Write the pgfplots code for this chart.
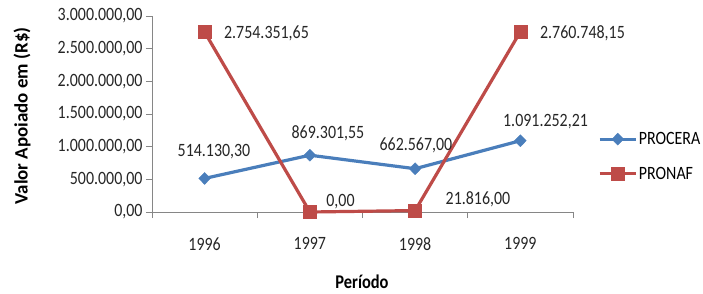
\documentclass[border=0pt]{standalone}
\usepackage{pgfplots}
\pgfplotsset{compat=1.18}
\usepackage{fontspec}
\setmainfont{Carlito}
\definecolor{procera}{RGB}{74,126,187}
\definecolor{pronaf}{RGB}{190,75,72}
\definecolor{axgray}{RGB}{134,134,134}
\newcommand{\st}[1]{\scalebox{1}[1.18]{#1}}
\begin{document}
\begin{tikzpicture}
\useasboundingbox (-152bp,-82bp) rectangle (551bp,212bp);
\begin{axis}[
  at={(0,0)}, anchor=south west,
  scale only axis, width=421bp, height=196bp,
  xmin=-0.5, xmax=3.5, ymin=0, ymax=3000000,
  axis x line*=bottom, axis y line*=left,
  axis line style={axgray, line width=0.8pt, -},
  xtick={0,1,2,3}, xticklabels={\st{1996},\st{1997},\st{1998},\st{1999}},
  major x tick style={draw=none},
  minor xtick={-0.5,0.5,1.5,2.5,3.5},
  minor tick length=6bp,
  minor x tick style={axgray, line width=0.8pt},
  ytick={0,500000,1000000,1500000,2000000,2500000,3000000},
  major tick length=6bp,
  y tick style={axgray, line width=0.8pt},
  tick align=outside,
  scaled y ticks=false,
  yticklabel={\st{\pgfmathprintnumber{\tick}}},
  yticklabel style={/pgf/number format/.cd, fixed, fixed zerofill, precision=2, use comma, 1000 sep={.}, assume math mode=true},
  ticklabel style={font=\fontsize{16}{18}\selectfont, text=black!85},
  xticklabel style={yshift=-16bp},
  ylabel={\bfseries Valor Apoiado em (R\$)},
  ylabel style={font=\fontsize{19}{21}\selectfont, at={(-130bp,96bp)}, anchor=center},
  xlabel={\st{\bfseries Período}},
  xlabel style={font=\fontsize{16.5}{19}\selectfont, at={(210bp,-70bp)}, anchor=center},
  clip=false,
  legend style={draw=none, fill=none, at={(446bp,55.5bp)}, anchor=west, font=\fontsize{16}{18}\selectfont, row sep=18bp, inner sep=0pt, nodes={inner sep=1.5bp}},
  legend cell align=left,
  legend image code/.code={\draw[#1, line width=3.2bp] (0bp,0bp) -- (36bp,0bp); \path[#1, mark repeat=2,mark phase=2] plot coordinates {(0bp,0bp) (18bp,0bp) (36bp,0bp)};},
]
\addplot[procera, line width=3.2bp, mark=diamond*, mark size=6bp, mark options={solid, fill=procera, draw=procera, line width=0.4pt, xscale=1.3}]
  coordinates {(0,514130.30) (1,869301.55) (2,662567.00) (3,1091252.21)};
\addlegendentry{\st{PROCERA}}
\addplot[pronaf, line width=3.2bp, mark=square*, mark size=6.5bp, mark options={solid, fill=pronaf, draw=pronaf, line width=0.4pt}]
  coordinates {(0,2754351.65) (1,0.00) (2,21816.00) (3,2760748.15)};
\addlegendentry{\st{PRONAF}}
\begin{scope}[every node/.style={font=\fontsize{16}{18}\selectfont, text=black!85}]
\node at (axis cs:0.089,918000) {\st{514.130,30}};
\node at (axis cs:1.172,1209000) {\st{869.301,55}};
\node at (axis cs:2.008,1026000) {\st{662.567,00}};
\node at (axis cs:3.239,1378000) {\st{1.091.252,21}};
\node at (axis cs:0.588,2740000) {\st{2.754.351,65}};
\node at (axis cs:1.291,153000) {\st{0,00}};
\node at (axis cs:2.597,199000) {\st{21.816,00}};
\node at (axis cs:3.59,2740000) {\st{2.760.748,15}};
\end{scope}
\end{axis}
\end{tikzpicture}
\end{document}
